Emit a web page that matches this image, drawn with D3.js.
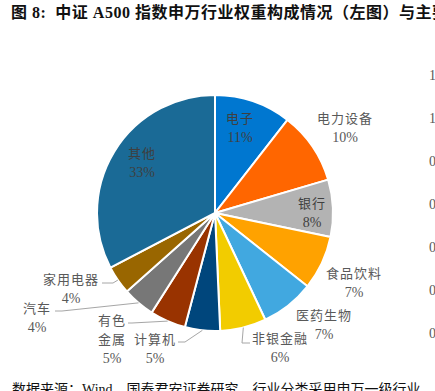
<!DOCTYPE html>
<html>
<head>
<meta charset="utf-8">
<script src="https://cdn.jsdelivr.net/npm/d3@7"></script>
<style>
  body { margin: 0; background: #fff; }
  svg { display: block; }
  text { font-family: "Liberation Serif", "Noto Sans CJK SC", serif; }
</style>
</head>
<body>
<svg width="435" height="391"></svg>
<script>
var industries = ['电子', '电力设备', '银行', '食品饮料', '医药生物', '非银金融', '计算机', '有色金属', '汽车', '家用电器', '其他'];
var weights = [10.5, 9.9, 7.8, 7.4, 7.3, 6.3, 4.8, 4.9, 4.4, 3.9, 32.6];
var colors = ['#0077d0', '#ff6600', '#b3b3b3', '#ffa200', '#41a8e0', '#f2cc00', '#00467c', '#993300', '#777777', '#996600', '#1a6a96'];
var rightTicks = [1.2, 1.0, 0.8, 0.6, 0.4, 0.2, 0.0];

var svg = d3.select('svg');
var cx = 215, cy = 213, r = 118;

// label layout, offsets from pie centre; leader = [elbowX, elbowY, endX]
var labelLayout = [
  { x: 25, y: -95, inside: true },
  { x: 130, y: -95 },
  { x: 97, y: -10, inside: true },
  { x: 139, y: 60 },
  { x: 109, y: 102 },
  { x: 65, y: 125, leader: [27, 130, 35] },
  { x: -60, y: 126, leader: [-30, 129, -37] },
  { x: -103, y: 107, split: true, leader: [-83, 110, -87] },
  { x: -178, y: 95, leader: [-153, 98, -160] },
  { x: -144, y: 66, leader: [-102, 70, -113] },
  { x: -73, y: -60, inside: true }
];

svg.append('text')
  .attr('x', 11).attr('y', 18)
  .attr('font-size', 16).attr('font-weight', 'bold').attr('fill', '#111')
  .attr('letter-spacing', 0.5)
  .attr('xml:space', 'preserve')
  .style('white-space', 'pre')
  .text('图 8:  中证 A500 指数申万行业权重构成情况（左图）与主要');

var pie = d3.pie().sort(null).value(function (d) { return d; });
var arcs = pie(weights);
var arc = d3.arc().innerRadius(0).outerRadius(r);

var g = svg.append('g').attr('transform', `translate(${cx},${cy})`);

g.selectAll('path.slice')
  .data(arcs)
  .join('path')
  .attr('class', 'slice')
  .attr('d', arc)
  .attr('fill', function (d, i) { return colors[i]; })
  .attr('stroke', '#fff')
  .attr('stroke-width', 2);

// leader lines
g.selectAll('path.leader')
  .data(arcs.filter(function (d, i) { return labelLayout[i].leader; }))
  .join('path')
  .attr('class', 'leader')
  .attr('fill', 'none')
  .attr('stroke', '#a6a6a6')
  .attr('stroke-width', 1)
  .attr('d', function (d) {
    var L = labelLayout[d.index].leader;
    var a = (d.startAngle + d.endAngle) / 2;
    var p = [Math.sin(a) * r, -Math.cos(a) * r];
    return d3.line()([p, [L[0], L[1]], [L[2], L[1]]]);
  });

var labels = g.selectAll('g.label')
  .data(arcs)
  .join('g')
  .attr('class', 'label')
  .attr('transform', function (d, i) { return `translate(${labelLayout[i].x},${labelLayout[i].y})`; });

labels.each(function (d, i) {
  var lay = labelLayout[i];
  var name = industries[i];
  var lines = lay.split ? [name.slice(0, 2), name.slice(2)] : [name];
  lines.push(Math.round(weights[i]) + '%');
  var t = d3.select(this).append('text')
    .attr('text-anchor', 'middle')
    .attr('font-size', 13)
    .attr('fill', lay.inside ? '#3f3f3f' : '#595959');
  lines.forEach(function (s, k) {
    var last = k === lines.length - 1;
    t.append('tspan').attr('x', 0).attr('y', k * 19).attr('dy', '0.35em')
      .attr('letter-spacing', last ? 0 : 1)
      .attr('font-size', last ? 14 : 13)
      .text(s);
  });
});

// right chart axis labels, cut off at the edge as in the source
var y = d3.scaleLinear().domain([0, 1.2]).range([333, 75]);
svg.append('g').selectAll('text')
  .data(rightTicks)
  .join('text')
  .attr('x', 429)
  .attr('y', function (d) { return y(d); })
  .attr('dy', '0.35em')
  .attr('font-size', 14)
  .attr('fill', '#595959')
  .text(function (d) { return d.toFixed(1); });

svg.append('text')
  .attr('x', 12).attr('y', 394)
  .attr('font-size', 14).attr('fill', '#111')
  .text('数据来源：Wind，国泰君安证券研究，行业分类采用申万一级行业');
</script>
</body>
</html>
